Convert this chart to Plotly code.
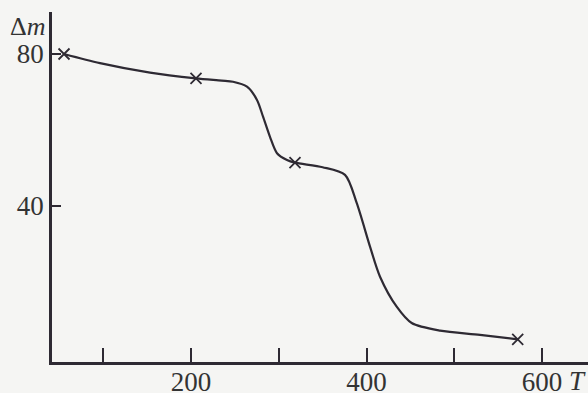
import plotly.graph_objects as go

# Curve (T, Δm)
curve_T = [55.3, 96.3, 153.3, 205.7, 235.0, 247.9, 263.8, 275.2, 282.1, 290.0, 298.0, 309.4, 318.5,
           350.0, 375.5, 388.8, 404.0, 415.4, 434.4, 451.5, 483.8, 529.3, 572.3]
curve_dm = [80.0, 77.6, 75.1, 73.6, 73.0, 72.7, 71.4, 67.9, 63.5, 58.2, 53.9, 52.1, 51.4,
            50.2, 48.2, 40.8, 29.3, 21.4, 13.5, 9.2, 7.2, 6.1, 4.9]

# Marked points (crosses)
mark_T = [55.3, 205.7, 318.5, 572.3]
mark_dm = [80.0, 73.6, 51.4, 4.9]

x_tickvals = [100, 200, 300, 400, 500, 600]
x_ticktext = ["", "200", "", "400", "", "600"]
y_tickvals = [40, 80]
y_ticktext = ["40", "80"]

ink = "#2e2a33"
font = "Liberation Serif"
fs = 27

fig = go.Figure()
fig.add_trace(go.Scatter(x=curve_T, y=curve_dm, mode="lines",
                         line=dict(color=ink, width=2.2, shape="spline", smoothing=0.8),
                         hoverinfo="skip", showlegend=False))
fig.add_trace(go.Scatter(x=mark_T, y=mark_dm, mode="markers",
                         marker=dict(symbol="x-thin", size=11, line=dict(color=ink, width=1.8)),
                         showlegend=False))

fig.update_layout(
    width=588, height=393,
    margin=dict(l=52, r=0, t=12, b=31),
    paper_bgcolor="#f5f5f3", plot_bgcolor="#f5f5f3",
    font=dict(family=font, size=fs, color="#333333"),
    xaxis=dict(range=[41.6, 652.4], showgrid=False, zeroline=False, automargin=False,
               showline=True, linecolor=ink, linewidth=2.5,
               ticks="inside", ticklen=14, tickwidth=2, tickcolor=ink,
               tickvals=x_tickvals, ticktext=x_ticktext, ticklabelstandoff=-6,
               tickfont=dict(family=font, size=fs, color="#333333")),
    yaxis=dict(range=[-1.05, 91.05], showgrid=False, zeroline=False, automargin=False,
               showline=True, linecolor=ink, linewidth=2.5,
               ticks="inside", ticklen=9, tickwidth=2, tickcolor=ink,
               tickvals=y_tickvals, ticktext=y_ticktext,
               tickfont=dict(family=font, size=fs, color="#333333")),
    annotations=[
        dict(text="Δ<i>m</i>", xref="paper", yref="paper", x=-0.045, y=1.0,
             xanchor="center", yanchor="top", yshift=2, showarrow=False,
             font=dict(family=font, size=26, color="#333333")),
        dict(text="<i>T</i>", xref="paper", yref="paper", x=1.0, y=0,
             xanchor="right", yanchor="top", yshift=-2, showarrow=False,
             font=dict(family=font, size=fs, color="#333333")),
    ],
)

fig.write_html("out.html", config={"displayModeBar": False},
               post_script="document.body.style.margin='0px';document.body.style.background='#f5f5f3';")
